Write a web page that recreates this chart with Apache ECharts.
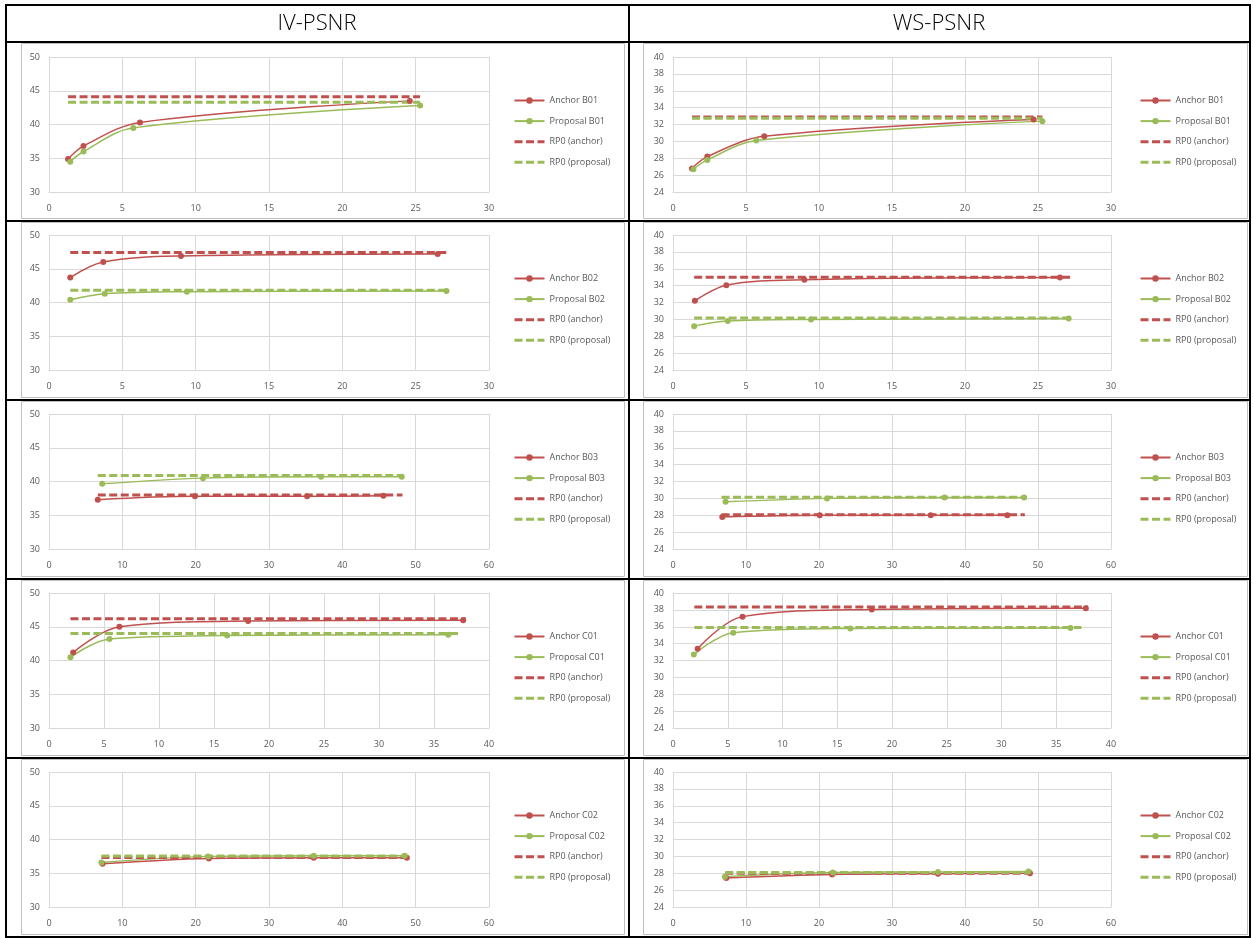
<!DOCTYPE html>
<html><head><meta charset="utf-8">
<script src="https://cdn.jsdelivr.net/npm/echarts@6/dist/echarts.min.js"></script>
<style>html,body{margin:0;padding:0;background:#fff;} #c{width:1253px;height:938px;}</style>
</head><body><div id="c"></div>
<script>
const sequences = ['B01', 'B02', 'B03', 'C01', 'C02'];
const columnTitles = ['IV-PSNR', 'WS-PSNR'];
const xMax = [30, 30, 60, 40, 60];
const xStep = [5, 5, 10, 5, 10];
const ivYTicks = [30, 50, 5];   // min, max, step
const wsYTicks = [24, 40, 2];

const ivAnchor = [
  [[1.3, 34.9], [2.35, 36.8], [6.2, 40.3], [24.6, 43.5]],
  [[1.45, 43.7], [3.7, 46.0], [9.0, 46.9], [26.5, 47.2]],
  [[6.65, 37.3], [19.9, 37.8], [35.2, 37.8], [45.6, 37.9]],
  [[2.2, 41.2], [6.4, 45.0], [18.1, 45.85], [37.65, 45.95]],
  [[7.3, 36.4], [21.8, 37.2], [36.1, 37.3], [48.8, 37.3]]
];
const ivProposal = [
  [[1.45, 34.5], [2.35, 36.0], [5.75, 39.5], [25.3, 42.8]],
  [[1.45, 40.4], [3.8, 41.3], [9.4, 41.6], [27.1, 41.7]],
  [[7.25, 39.65], [21.0, 40.5], [37.1, 40.7], [48.1, 40.7]],
  [[1.95, 40.5], [5.5, 43.2], [16.2, 43.7], [36.3, 43.8]],
  [[7.15, 36.6], [21.7, 37.5], [36.1, 37.6], [48.5, 37.6]]
];
const wsAnchor = [
  [[1.3, 26.8], [2.35, 28.2], [6.25, 30.6], [24.7, 32.6]],
  [[1.5, 32.2], [3.65, 34.05], [9.0, 34.7], [26.5, 34.95]],
  [[6.75, 27.8], [20.1, 28.0], [35.3, 28.0], [45.8, 28.0]],
  [[2.25, 33.4], [6.35, 37.2], [18.15, 38.05], [37.7, 38.2]],
  [[7.3, 27.45], [21.8, 27.85], [36.3, 27.95], [48.9, 28.0]]
];
const wsProposal = [
  [[1.4, 26.7], [2.35, 27.8], [5.7, 30.1], [25.3, 32.4]],
  [[1.45, 29.2], [3.75, 29.8], [9.45, 30.0], [27.1, 30.1]],
  [[7.2, 29.6], [21.1, 30.0], [37.2, 30.1], [48.1, 30.1]],
  [[1.9, 32.7], [5.5, 35.3], [16.2, 35.8], [36.3, 35.85]],
  [[7.1, 27.6], [21.9, 28.1], [36.3, 28.15], [48.7, 28.2]]
];
const ivRp0Anchor = [44.1, 47.4, 38.0, 46.2, 37.35];
const ivRp0Proposal = [43.3, 41.8, 40.9, 44.0, 37.55];
const wsRp0Anchor = [32.9, 35.0, 28.05, 38.35, 28.0];
const wsRp0Proposal = [32.75, 30.15, 30.13, 35.9, 28.1];
const rp0AnchorSpan = [[1.3, 25.3], [1.45, 27.2], [6.65, 48.2], [1.95, 37.9], [7.15, 48.8]];
const rp0ProposalSpan = [[1.3, 25.3], [1.45, 27.2], [6.65, 48.2], [1.95, 37.3], [7.15, 48.8]];

// ---- layout / style (not data) ----
const RED = '#C0504D', GREEN = '#9BBB59', GRID = '#D9D9D9', TXT = '#595959';
const FONT = "'Open Sans', 'DejaVu Sans', sans-serif";
const rowLines = [42, 221, 400, 579, 758, 937];
const plotTop = [57, 235, 414, 593, 772];
const plotH = 135;
const colPlot = [{ left: 49, width: 440 }, { left: 673, width: 438 }];
const colLegend = [513, 1139];
const colBox = [[21, 624], [643, 1247]];
const DASH = [8, 3.5];

const chart = echarts.init(document.getElementById('c'), null, { renderer: 'canvas' });
const grid = [], xAxis = [], yAxis = [], legend = [], series = [], graphic = [];
const noMarker = { color: 'rgba(0,0,0,0)', opacity: 0, borderWidth: 0 };

let idx = 0;
for (let c = 0; c < 2; c++) {
  const yt = c === 0 ? ivYTicks : wsYTicks;
  const anc = c === 0 ? ivAnchor : wsAnchor;
  const pro = c === 0 ? ivProposal : wsProposal;
  const rA = c === 0 ? ivRp0Anchor : wsRp0Anchor;
  const rP = c === 0 ? ivRp0Proposal : wsRp0Proposal;
  for (let r = 0; r < 5; r++) {
    grid.push({ left: colPlot[c].left, width: colPlot[c].width, top: plotTop[r], height: plotH });
    xAxis.push({
      gridIndex: idx, type: 'value', min: 0, max: xMax[r], interval: xStep[r],
      axisLine: { show: true, lineStyle: { color: GRID, width: 1 } },
      axisTick: { show: false },
      axisLabel: { color: TXT, fontSize: 9, fontFamily: FONT, margin: 12 },
      splitLine: { show: true, lineStyle: { color: GRID, width: 1 } }
    });
    yAxis.push({
      gridIndex: idx, type: 'value', min: yt[0], max: yt[1], interval: yt[2],
      axisLine: { show: false }, axisTick: { show: false },
      axisLabel: { color: TXT, fontSize: 9, fontFamily: FONT, margin: 9 },
      splitLine: { show: true, lineStyle: { color: GRID, width: 1 } }
    });
    const nA = 'Anchor ' + sequences[r], nP = 'Proposal ' + sequences[r];
    series.push({
      name: nA, type: 'line', xAxisIndex: idx, yAxisIndex: idx, data: anc[r],
      smooth: 0.35, symbol: 'circle', symbolSize: 6, color: RED,
      itemStyle: { color: RED }, lineStyle: { color: RED, width: 1.5 }
    });
    series.push({
      name: nP, type: 'line', xAxisIndex: idx, yAxisIndex: idx, data: pro[r],
      smooth: 0.35, symbol: 'circle', symbolSize: 6, color: GREEN,
      itemStyle: { color: GREEN }, lineStyle: { color: GREEN, width: 1.5 }
    });
    series.push({
      name: 'RP0 (anchor)', type: 'line', xAxisIndex: idx, yAxisIndex: idx,
      data: [[rp0AnchorSpan[r][0], rA[r]], [rp0AnchorSpan[r][1], rA[r]]],
      symbol: 'none', color: RED,
      lineStyle: { color: RED, width: 3, type: DASH, cap: 'butt' }
    });
    series.push({
      name: 'RP0 (proposal)', type: 'line', xAxisIndex: idx, yAxisIndex: idx,
      data: [[rp0ProposalSpan[r][0], rP[r]], [rp0ProposalSpan[r][1], rP[r]]],
      symbol: 'none', color: GREEN,
      lineStyle: { color: GREEN, width: 3, type: DASH, cap: 'butt' }
    });
    legend.push({
      orient: 'vertical', left: colLegend[c], top: plotTop[r] + 39, padding: 0,
      itemWidth: 30, itemHeight: 8, itemGap: 11.6, selectedMode: false,
      textStyle: { color: TXT, fontSize: 9, fontFamily: FONT },
      data: [nA, nP,
        { name: 'RP0 (anchor)', itemStyle: noMarker, lineStyle: { width: 3, type: DASH, color: RED } },
        { name: 'RP0 (proposal)', itemStyle: noMarker, lineStyle: { width: 3, type: DASH, color: GREEN } }]
    });
    // chart area box
    graphic.push({
      type: 'rect', silent: true, z: -1,
      shape: { x: colBox[c][0] + 0.5, y: rowLines[r] + 1.5, width: colBox[c][1] - colBox[c][0], height: rowLines[r + 1] - rowLines[r] - 4 },
      style: { fill: '#fff', stroke: '#BFBFBF', lineWidth: 1 }
    });
    idx++;
  }
}

// table borders
graphic.push({ type: 'rect', silent: true, z: 10, shape: { x: 6, y: 5, width: 1244, height: 932 }, style: { fill: 'none', stroke: '#000', lineWidth: 2 } });
graphic.push({ type: 'line', silent: true, z: 10, shape: { x1: 629, y1: 5, x2: 629, y2: 937 }, style: { stroke: '#000', lineWidth: 2 } });
for (let i = 0; i < 5; i++) {
  graphic.push({ type: 'line', silent: true, z: 10, shape: { x1: 6, y1: rowLines[i], x2: 1250, y2: rowLines[i] }, style: { stroke: '#000', lineWidth: 2 } });
}
// header titles
[317, 939].forEach((cx, i) => {
  graphic.push({
    type: 'text', silent: true, z: 10, x: cx, y: 24,
    style: { text: columnTitles[i], fill: '#000', fontSize: 22, fontWeight: 300, fontFamily: FONT, align: 'center', verticalAlign: 'middle' }
  });
});

chart.setOption({
  animation: false,
  backgroundColor: '#fff',
  grid, xAxis, yAxis, legend, series, graphic
});
</script>
</body></html>
